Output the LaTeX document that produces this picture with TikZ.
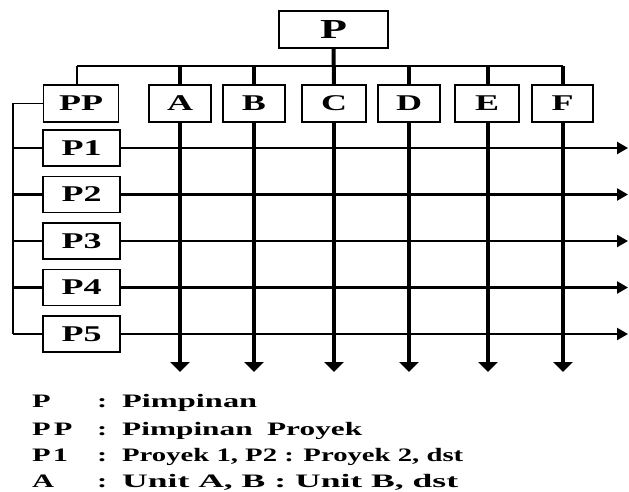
\documentclass[tikz,border=0pt]{standalone}
\usepackage{fontspec}
\usetikzlibrary{arrows.meta}
\newfontfamily\wfont[FakeStretch=1.6]{Liberation Serif}
\pgfdeclarelayer{bg}
\pgfsetlayers{bg,main}
\begin{document}
\begin{tikzpicture}[x=1pt,y=-1pt,
  box/.style={draw, fill=white, line width=1.5pt, inner sep=0pt, minimum height=37pt, font=\wfont\bfseries\fontsize{22.5}{22.5}\selectfont},
  thickv/.style={line width=4pt},
  rowline/.style={line width=2.3pt},
  thin/.style={line width=1.5pt},
  downarr/.style={line width=4pt, -{Triangle[length=10pt,width=19pt]}},
  rightarr/.style={line width=2.3pt, -{Triangle[length=11pt,width=12pt]}},
  leg/.style={anchor=base west, inner sep=0pt, font=\wfont\bfseries\fontsize{19}{19}\selectfont}]
\begin{pgfonlayer}{bg}
\fill[white] (0,0) rectangle (629,491);
\end{pgfonlayer}
\useasboundingbox (0,0) rectangle (629,491);
% top box
\node[box, minimum width=109pt, minimum height=37pt, font=\wfont\bfseries\fontsize{27.5}{27.5}\selectfont] (P) at (333.5,29.5) {P};
% second row
\node[box, minimum width=75pt] (PP) at (81,103.5) {PP};
\node[box, minimum width=62pt] (A) at (180,103.5) {A};
\node[box, minimum width=62pt] (B) at (254,103.5) {B};
\node[box, minimum width=64pt] (C) at (334,103.5) {C};
\node[box, minimum width=62pt] (D) at (409,103.5) {D};
\node[box, minimum width=64pt] (E) at (487,103.5) {E};
\node[box, minimum width=61pt] (F) at (562.5,103.5) {F};
% project boxes
\foreach \i/\y in {1/148,2/194.5,3/241,4/287.5,5/334}{
  \node[box, minimum width=77pt, minimum height=36pt] (P\i) at (81.5,\y) {P\i};
}
\begin{pgfonlayer}{bg}
% bus
\coordinate (busL) at (77,66);
\coordinate (busR) at (563,66);
\draw[thin] (busL) -- (busR);
\draw[thin] (busL) -- (busL |- PP.north);
\draw[thickv] (P.south) -- (C.north);
\foreach \n/\x in {A/180,B/254,D/409,E/488,F/563}{
  \draw[thickv] (\x,66) -- (\n.north -| \x,0);
}
% verticals with arrows
\foreach \n/\x in {A/180,B/254,C/334,D/409,E/488,F/563}{
  \coordinate (end\n) at (\x,372);
  \draw[downarr] (\n.south -| end\n) -- (end\n);
}
% left spine
\coordinate (spT) at (13,103.5);
\coordinate (spB) at (13,334);
\draw[thin] (PP.west) -- (spT) -- (spB);
\foreach \i in {1,...,5}{
  \coordinate (rt\i) at (628,0 |- P\i.center);
  \draw[rowline] (spT |- P\i.center) -- (P\i.west);
  \draw[rightarr] (P\i.east) -- (rt\i);
}
\end{pgfonlayer}
% legend
\node[leg] (l1) at (32,407) {P};
\node[leg] (c1) at (97,407) {:};
\node[leg] (t1) at (122,407) {\resizebox{135pt}{\height}{Pimpinan}};
\node[leg] (l2) at (32,435) {P\kern3pt P};
\node[leg] (c2) at (97,435) {:};
\node[leg] (t2) at (122,435) {\resizebox{240pt}{\height}{Pimpinan\hspace{14pt}Proyek}};
\node[leg] (l3) at (32,461) {P\kern2pt1};
\node[leg] (c3) at (97,461) {:};
\node[leg] (t3) at (122,461) {\resizebox{341pt}{\height}{Proyek 1, P2 : Proyek 2, dst}};
\node[leg] (l4) at (32,487) {A};
\node[leg] (c4) at (97,487) {:};
\node[leg] (t4) at (122,487) {\resizebox{336pt}{\height}{Unit A, B : Unit B, dst}};
\end{tikzpicture}
\end{document}
